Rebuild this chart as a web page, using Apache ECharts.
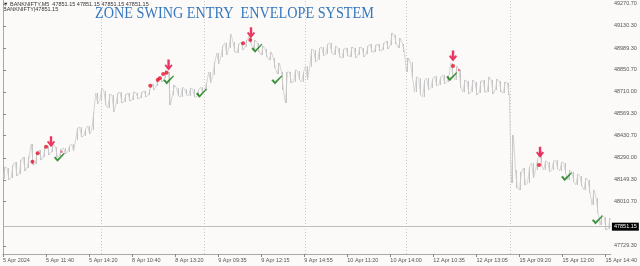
<!DOCTYPE html>
<html><head><meta charset="utf-8">
<script src="https://cdn.jsdelivr.net/npm/echarts@6/dist/echarts.min.js"></script>
<style>html,body{margin:0;padding:0;background:#fcfaf9}#c{width:640px;height:266px}</style>
</head><body><div id="c"></div>
<script>
// ---- data ----
const xTickIdx = [0,32,64,96,128,160,192,224,256,288,320,352,384,416,448];
const xTickLabels = ['5 Apr 2024','5 Apr 11:40','5 Apr 14:20','8 Apr 10:40','8 Apr 13:20','9 Apr 09:35','9 Apr 12:15','9 Apr 14:55','10 Apr 11:20','10 Apr 14:00','12 Apr 10:35','12 Apr 13:05','15 Apr 09:20','15 Apr 12:00','15 Apr 14:40'];
const yTickValues = [47729.30,48010.70,48149.30,48290.00,48430.70,48569.30,48710.00,48850.70,48989.30,49130.30,49270.70];
const daySepIdx = [73,150,225,300,377];
const barStep = 3;
const priceHigh = [48231,48225,48244,48263,48276,48295,48301,48378,48327,48340,48359,48365,48378,48359,48346,48352,48365,48378,48480,48486,
48473,48493,48582,48703,48735,48716,48696,48690,48703,48709,48696,48703,48709,48703,48709,48716,48728,48760,48792,48811,
48850,48837,48754,48735,48741,48728,48735,48728,48722,48741,48767,48837,48900,48958,49002,49022,49079,49028,49015,49028,
49041,49066,49041,49022,49002,48983,48964,48926,48894,48837,48837,48837,48850,48843,48837,48875,48983,48977,48990,48996,
49015,49022,49002,48990,48983,48990,48996,48990,48996,48990,49002,49015,49009,49015,49022,49034,49085,49073,49053,49015,
48926,48900,48805,48798,48786,48798,48792,48811,48805,48818,48811,48894,48875,48850,48786,48779,48786,48773,48779,48786,
48805,48786,48792,48779,48773,48767,48435,48212,48200,48225,48231,48257,48276,48333,48270,48263,48270,48276,48263,48257,
48212,48200,48187,48174,48161,48149,48085,48034,47926,47913,47906];
const priceLow = [48155,48149,48161,48174,48187,48206,48225,48244,48250,48276,48295,48308,48327,48295,48301,48314,48327,48333,48403,48422,
48429,48442,48467,48633,48658,48626,48607,48582,48633,48639,48646,48652,48658,48665,48671,48677,48690,48722,48748,48773,
48798,48626,48690,48684,48677,48690,48684,48677,48677,48703,48716,48767,48818,48888,48932,48945,48990,48964,48958,48977,
48996,49022,48977,48964,48945,48932,48913,48862,48824,48722,48639,48767,48773,48786,48773,48786,48869,48900,48913,48939,
48951,48958,48945,48932,48926,48939,48932,48926,48945,48932,48951,48964,48964,48970,48977,48983,49009,49015,48990,48964,
48837,48798,48709,48690,48677,48722,48735,48748,48754,48760,48773,48818,48786,48735,48709,48696,48709,48690,48703,48709,
48709,48696,48722,48709,48703,48690,48129,48097,48085,48117,48129,48161,48212,48238,48212,48200,48212,48219,48206,48187,
48149,48136,48117,48110,48085,48066,47989,47938,47862,47830,47837];
const lastPrice = 47851.15;
const signalDots = [[21.9,48265],[25.8,48319],[32.0,48361],[109.5,48749],[115.0,48786],[116.5,48797],[119.1,48824],[121.6,48832],[178.5,49020],[183.9,49041],[334.6,48875],[398.6,48244]];
const minorDots = [[43.6,48329],[339.0,48849]];
const sellArrows = [[35.7,48393],[123.1,48881],[184.4,49087],[334.6,48939],[399.3,48325]];
const exitChecks = [[41.9,48293],[123.1,48786],[147.5,48701],[188.8,48988],[203.6,48786],[333.6,48807],[419.0,48170],[441.9,47894]];

// ---- build ----
const priceLine = [];
const barSegs = [];
for (let k = 0; k < priceHigh.length; k++) {
  if (k % 2 === 0) { priceLine.push([k*barStep, priceLow[k]]); priceLine.push([k*barStep+1.5, priceHigh[k]]); }
  else { priceLine.push([k*barStep, priceHigh[k]]); priceLine.push([k*barStep+1.5, priceLow[k]]); }
  barSegs.push([k*barStep+0.75, priceLow[k], priceHigh[k]]);
}
const chart = echarts.init(document.getElementById('c'), null, {renderer:'canvas'});
const tiny = {fontFamily:'Liberation Sans', fontSize:5.5, color:'#555'};
chart.setOption({
  backgroundColor:'#fcfaf9',
  animation:false,
  grid:{left:1, right:27, top:0, bottom:12, show:false},
  xAxis:{type:'value', min:0, max:452,
    axisLine:{show:true, lineStyle:{color:'#a8a8a8', width:1}},
    axisTick:{show:true, customValues:xTickIdx, length:3, lineStyle:{color:'#888'}},
    axisLabel:Object.assign({customValues:xTickIdx, align:'left', margin:3,
      formatter:v=>{const i=xTickIdx.indexOf(Math.round(v)); return i>=0?xTickLabels[i]:'';}}, tiny),
    splitLine:{show:false}},
  yAxis:{type:'value', position:'right', min:47677.0, max:49295.5,
    axisLine:{show:true, lineStyle:{color:'#a8a8a8', width:1}},
    axisTick:{show:true, customValues:yTickValues, length:3, lineStyle:{color:'#888'}},
    axisLabel:Object.assign({customValues:yTickValues, margin:3, formatter:v=>v.toFixed(2)}, tiny),
    splitLine:{show:false}},
  graphic:[
    {type:'text', left:3, top:1, style:{text:'▼ BANKNIFTY,M5  47851.15 47851.15 47851.15 47851.15', font:'5.5px "Liberation Sans"', fill:'#333'}},
    {type:'text', left:3, top:6.5, style:{text:'BANKNIFTY|47851.15', font:'5.5px "Liberation Sans"', fill:'#333'}},
    {type:'text', x:95, y:6, scaleX:0.89, style:{text:'ZONE SWING ENTRY  ENVELOPE SYSTEM', font:'16px "Liberation Serif"', fill:'#3578bd'}}
  ],
  series:[
    {type:'custom', data:barSegs, z:2, renderItem:(params, api)=>{
      const p1 = api.coord([api.value(0), api.value(1)]);
      const p2 = api.coord([api.value(0), api.value(2)]);
      const x = Math.round(p1[0]) + 0.5;
      return {type:'line', shape:{x1:x, y1:p1[1], x2:x, y2:p2[1]}, style:{stroke:'#c4c4c4', lineWidth:1}};
    }},
    {type:'line', data:priceLine, symbol:'none', lineStyle:{color:'#cbcbcb', width:0.8}, z:2,
      markLine:{silent:true, symbol:'none', animation:false, data:[
        ...daySepIdx.map(v=>({xAxis:v, lineStyle:{color:'#c8c8c8', type:[1,2], width:1}, label:{show:false}})),
        {yAxis:lastPrice, lineStyle:{color:'#bdbdbd', type:'solid', width:1},
          label:{show:true, position:'end', distance:1, formatter:()=>lastPrice.toFixed(2), backgroundColor:'#000', color:'#fff', fontSize:5.5, fontFamily:'Liberation Sans', padding:[1,2]}}
      ]}},
    {type:'scatter', data:signalDots, symbol:'circle', symbolSize:4, itemStyle:{color:'#e3122c'}, z:5},
    {type:'scatter', data:minorDots, symbol:'circle', symbolSize:2.5, itemStyle:{color:'#ee5577'}, z:5},
    {type:'scatter', data:sellArrows, symbol:'path://M3.5,0 H6.5 V7 L8.5,5 L10,6.5 L5,12 L0,6.5 L1.5,5 L3.5,7 Z', symbolSize:[8,11], itemStyle:{color:'#e5053a'}, z:6},
    {type:'scatter', data:exitChecks, symbol:'path://M0,6 L2,4.5 L4,7.5 L11,0 L12,1 L4,11 Z', symbolSize:[11,9], itemStyle:{color:'#0b7a0b'}, z:6}
  ]
});
</script></body></html>
